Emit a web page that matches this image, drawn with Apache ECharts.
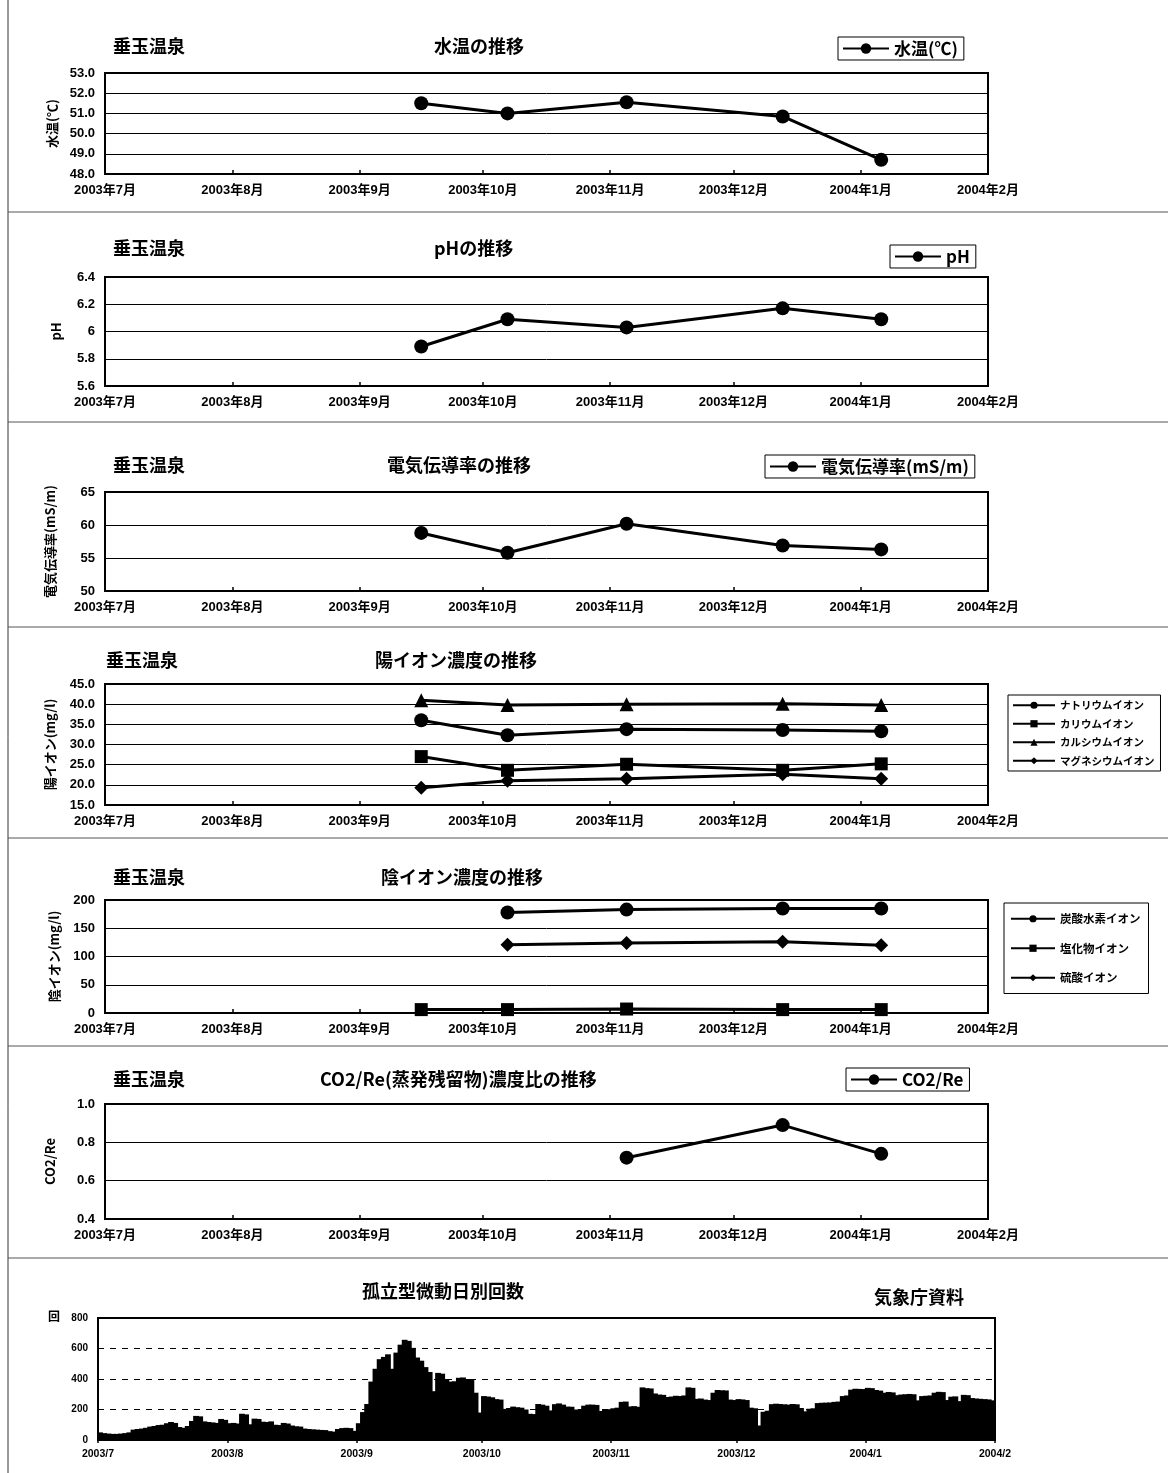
<!DOCTYPE html>
<html>
<head>
<meta charset="utf-8">
<script src="https://cdn.jsdelivr.net/npm/echarts@6/dist/echarts.min.js"></script>
<style>
  html, body { margin: 0; padding: 0; background: #fff; }
  #chart { width: 1168px; height: 1473px; }
</style>
</head>
<body>
<div id="chart"></div>
<script>
// ---- survey dates (垂玉温泉 water sampling) ----
const sampleDates = ['2003-09-16', '2003-10-07', '2003-11-05', '2003-12-13', '2004-01-06'];
const monthStarts = ['2003-07-01', '2003-08-01', '2003-09-01', '2003-10-01', '2003-11-01', '2003-12-01', '2004-01-01', '2004-02-01'];

// ---- water quality values (null = not measured) ----
const waterTemp    = [51.5, 51.0, 51.55, 50.85, 48.7];
const phValues     = [5.89, 6.09, 6.03, 6.17, 6.09];
const conductivity = [58.8, 55.8, 60.2, 56.9, 56.3];

const sodium    = [36.0, 32.3, 33.8, 33.6, 33.3];
const potassium = [27.0, 23.6, 25.1, 23.6, 25.2];
const calcium   = [41.0, 39.8, 40.0, 40.1, 39.8];
const magnesium = [19.3, 21.0, 21.5, 22.6, 21.5];

const bicarbonate = [null, 178, 183, 185, 185];
const chloride    = [6, 6, 7, 6, 6];
const sulfate     = [null, 121, 124, 126, 120];

const co2Re = [null, null, 0.72, 0.89, 0.74];

// ---- daily counts of isolated tremor (気象庁資料) ----
const tremorStart = '2003-07-01';
const tremorJul = [50,45,42,40,40,42,45,50,68,72,75,80,88,92,98,100,110,118,112,85,80,92,125,158,155,122,118,115,112,138,132];
const tremorAug = [110,112,108,172,168,103,140,138,120,118,122,100,98,112,108,95,90,88,75,72,70,68,66,65,58,55,72,78,80,78,60];
const tremorSep = [110,183,236,383,467,530,545,562,467,573,625,657,650,604,541,520,478,446,320,440,435,400,383,385,408,410,400,394,310,180];
const tremorOct = [288,285,280,268,265,204,210,219,215,212,200,172,170,236,232,225,194,235,240,232,219,218,200,198,225,232,232,230,190,198,202];
const tremorNov = [208,212,250,252,220,222,218,345,340,338,305,298,296,282,285,290,288,292,345,342,270,272,265,262,310,328,326,325,265,262];
const tremorDec = [268,266,262,212,208,95,185,192,235,238,236,234,232,236,234,210,188,205,208,242,244,245,246,250,252,288,292,330,336,335,334];
const tremorJan = [342,340,328,324,310,315,312,294,298,300,302,300,260,288,290,292,310,316,314,262,284,286,255,296,294,275,272,270,268,266,260];

// ---------------------------------------------------------------
const FONT = '"Liberation Sans", "Noto Sans CJK JP", sans-serif';
const JP = '"Noto Sans CJK JP", "Liberation Sans", sans-serif';

function ts(s, hour) {
  const [y, m, d] = s.split('-').map(Number);
  return new Date(y, m - 1, d, hour || 0).getTime();
}
const monthTs = monthStarts.map(s => ts(s));
const axisMin = monthTs[0];
const axisMax = monthTs[monthTs.length - 1];

function pairs(values) {
  return sampleDates.map((d, i) => [ts(d), values[i]]).filter(p => p[1] != null);
}

const tremorCounts = [].concat(tremorJul, tremorAug, tremorSep, tremorOct, tremorNov, tremorDec, tremorJan);
const t0 = tremorStart.split('-').map(Number);
const tremorData = tremorCounts.map((v, i) => [new Date(t0[0], t0[1] - 1, t0[2] + i, 12).getTime(), v]);

const jpMonth = v => { const d = new Date(v); return d.getFullYear() + '年' + (d.getMonth() + 1) + '月'; };
const slashMonth = v => { const d = new Date(v); return d.getFullYear() + '/' + (d.getMonth() + 1); };

// grid rectangles for the seven panels
const grids = [
  { left: 105, top: 73,   width: 883, height: 101 },
  { left: 105, top: 277,  width: 883, height: 109 },
  { left: 105, top: 492,  width: 883, height: 99 },
  { left: 105, top: 684,  width: 883, height: 121 },
  { left: 105, top: 900,  width: 883, height: 113 },
  { left: 105, top: 1104, width: 883, height: 115 },
  { left: 98,  top: 1318, width: 897, height: 122 }
].map(g => Object.assign({ show: true, borderColor: '#000', borderWidth: 2, backgroundColor: 'transparent' }, g));

// date axis drawn on a numeric scale (epoch ms) with month-start ticks
function dateAxis(gridIndex, formatter, fontSize, margin, inside) {
  return {
    type: 'value', gridIndex, min: axisMin, max: axisMax, scale: true,
    axisLine: { show: false },
    splitLine: { show: false },
    axisTick: { show: true, inside, length: inside ? 4 : 3, customValues: monthTs, lineStyle: { color: '#000', width: 1.5 } },
    axisLabel: {
      customValues: monthTs, formatter, color: '#000', fontWeight: 'bold', fontSize,
      fontFamily: FONT, margin, hideOverlap: false
    }
  };
}

function valueAxis(gridIndex, min, max, interval, formatter, name, nameGap) {
  return {
    type: 'value', gridIndex, min, max, interval,
    axisLine: { show: false }, axisTick: { show: false },
    splitLine: { show: true, lineStyle: { color: '#000', width: 1 } },
    axisLabel: { formatter, color: '#000', fontWeight: 'bold', fontSize: 13, fontFamily: FONT, margin: 10 },
    name, nameLocation: 'middle', nameRotate: 90, nameGap,
    nameTextStyle: { color: '#000', fontWeight: 'bold', fontSize: 13, fontFamily: JP }
  };
}

const fix1 = v => v.toFixed(1);
const trim1 = v => String(+v.toFixed(1));
const int0 = v => String(Math.round(v));

const xAxes = [0, 1, 2, 3, 4, 5].map(i => dateAxis(i, jpMonth, 13, 10, true));
xAxes.push(dateAxis(6, slashMonth, 10.5, 9, false));

const yAxes = [
  valueAxis(0, 48, 53, 1, fix1, '水温(℃)', 46),
  valueAxis(1, 5.6, 6.4, 0.2, trim1, 'pH', 42),
  valueAxis(2, 50, 65, 5, int0, '電気伝導率(mS/m)', 48),
  valueAxis(3, 15, 45, 5, fix1, '陽イオン(mg/l)', 48),
  valueAxis(4, 0, 200, 50, int0, '陰イオン(mg/l)', 44),
  valueAxis(5, 0.4, 1.0, 0.2, fix1, 'CO2/Re', 48),
  {
    type: 'value', gridIndex: 6, min: 0, max: 800, interval: 200,
    axisLine: { show: false }, axisTick: { show: false },
    splitLine: { show: true, lineStyle: { color: '#000', width: 1, type: [6, 6] } },
    axisLabel: { color: '#000', fontWeight: 'bold', fontSize: 10, fontFamily: FONT, margin: 10 },
    name: '回', nameLocation: 'end', nameGap: 2,
    nameTextStyle: { color: '#000', fontWeight: 'bold', fontSize: 12, fontFamily: JP, align: 'right', verticalAlign: 'middle', padding: [0, 38, 0, 0] }
  }
];

function lineSeries(name, idx, values, symbol, size) {
  return {
    type: 'line', name, xAxisIndex: idx, yAxisIndex: idx, data: pairs(values),
    symbol, symbolSize: size,
    lineStyle: { color: '#000', width: 3 },
    itemStyle: { color: '#000' },
    emphasis: { disabled: true }, animation: false
  };
}

const series = [
  lineSeries('水温(℃)', 0, waterTemp, 'circle', 14),
  lineSeries('pH', 1, phValues, 'circle', 14),
  lineSeries('電気伝導率(mS/m)', 2, conductivity, 'circle', 14),
  lineSeries('ナトリウムイオン', 3, sodium, 'circle', 14),
  lineSeries('カリウムイオン', 3, potassium, 'rect', 13),
  lineSeries('カルシウムイオン', 3, calcium, 'triangle', 14),
  lineSeries('マグネシウムイオン', 3, magnesium, 'diamond', 14),
  lineSeries('炭酸水素イオン', 4, bicarbonate, 'circle', 14),
  lineSeries('塩化物イオン', 4, chloride, 'rect', 13),
  lineSeries('硫酸イオン', 4, sulfate, 'diamond', 14),
  lineSeries('CO2/Re', 5, co2Re, 'circle', 14),
  {
    type: 'bar', name: '孤立型微動日別回数', xAxisIndex: 6, yAxisIndex: 6, data: tremorData,
    barWidth: grids[6].width / tremorCounts.length + 1.6,
    itemStyle: { color: '#000' }, emphasis: { disabled: true }, animation: false
  }
];

function boxLegend(names, left, top, opts) {
  return Object.assign({
    data: names, left, top, selectedMode: false,
    borderColor: '#000', borderWidth: 1, borderRadius: 0,
    padding: [3, 6, 3, 4], itemWidth: 46, itemHeight: 13, itemGap: 8,
    textStyle: { color: '#000', fontWeight: 'bold', fontSize: 17, fontFamily: JP }
  }, opts || {});
}

const legends = [
  boxLegend(['水温(℃)'], 838, 37),
  boxLegend(['pH'], 890, 245),
  boxLegend(['電気伝導率(mS/m)'], 765, 455),
  boxLegend(['ナトリウムイオン', 'カリウムイオン', 'カルシウムイオン', 'マグネシウムイオン'], 1008, 695, {
    orient: 'vertical', itemWidth: 42, itemHeight: 9, itemGap: 8, padding: [5, 6, 5, 4],
    textStyle: { color: '#000', fontWeight: 'bold', fontSize: 10.5, fontFamily: JP }
  }),
  boxLegend(['炭酸水素イオン', '塩化物イオン', '硫酸イオン'], 1004, 903, {
    orient: 'vertical', itemWidth: 44, itemHeight: 9, itemGap: 18, padding: [10, 8, 10, 6],
    textStyle: { color: '#000', fontWeight: 'bold', fontSize: 11.5, fontFamily: JP }
  }),
  boxLegend(['CO2/Re'], 846, 1068)
];

function heading(text, left, top, size) {
  return { text, left, top, padding: 0, textStyle: { color: '#000', fontWeight: 'bold', fontSize: size || 18, fontFamily: JP } };
}

const titles = [
  heading('垂玉温泉', 113, 37), heading('水温の推移', 434, 37),
  heading('垂玉温泉', 113, 239), heading('pHの推移', 434, 239),
  heading('垂玉温泉', 113, 456), heading('電気伝導率の推移', 387, 456),
  heading('垂玉温泉', 106, 651), heading('陽イオン濃度の推移', 375, 651),
  heading('垂玉温泉', 113, 868), heading('陰イオン濃度の推移', 381, 868),
  heading('垂玉温泉', 113, 1070), heading('CO2/Re(蒸発残留物)濃度比の推移', 320, 1070),
  heading('孤立型微動日別回数', 362, 1282), heading('気象庁資料', 874, 1288)
];

// page frame: left rule and dividers between panels
const dividerYs = [212, 422, 627, 838, 1046, 1258];
const graphics = [
  { type: 'line', shape: { x1: 8, y1: 0, x2: 8, y2: 1473 }, style: { stroke: '#333', lineWidth: 1 }, silent: true }
].concat(dividerYs.map(y => ({
  type: 'line', shape: { x1: 8, y1: y, x2: 1168, y2: y }, style: { stroke: '#555', lineWidth: 1 }, silent: true
})));

const chart = echarts.init(document.getElementById('chart'), null, { renderer: 'canvas' });
chart.setOption({
  backgroundColor: '#fff',
  animation: false,
  textStyle: { fontFamily: FONT },
  title: titles,
  legend: legends,
  grid: grids,
  xAxis: xAxes,
  yAxis: yAxes,
  series,
  graphic: graphics
});
</script>
</body>
</html>
